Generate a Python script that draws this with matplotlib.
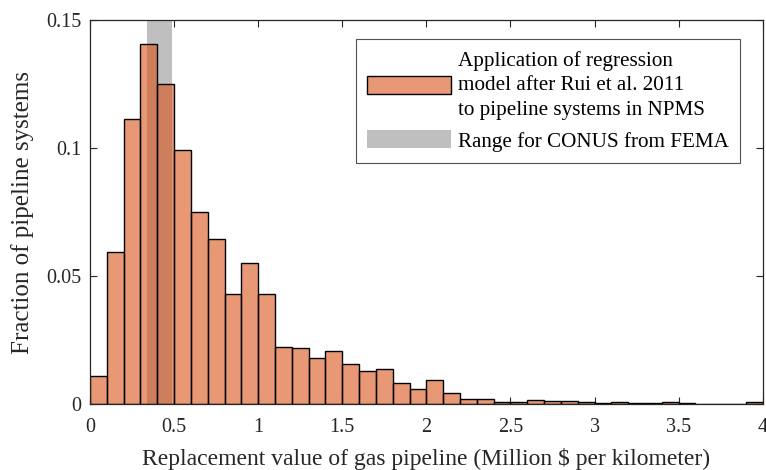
import numpy as np
import matplotlib
matplotlib.use("Agg")
import matplotlib.pyplot as plt
from matplotlib.patches import Patch

plt.rcParams['font.family'] = ['Liberation Serif', 'DejaVu Serif']

# histogram of replacement value, bins of 0.1 Million $/km from 0 to 4
bin_edges = np.round(np.arange(0, 4.01, 0.1), 2)
fractions = [0.0110, 0.0592, 0.1112, 0.1406, 0.1251, 0.0993, 0.0750, 0.0646, 0.0428, 0.0552,
             0.0431, 0.0224, 0.0217, 0.0178, 0.0208, 0.0156, 0.0130, 0.0135, 0.0083, 0.0060,
             0.0094, 0.0042, 0.0018, 0.0020, 0.0009, 0.0008, 0.0016, 0.0013, 0.0011, 0.0007,
             0.0005, 0.0008, 0.0005, 0.0005, 0.0006, 0.0004, 0.0002, 0.0001, 0.0000, 0.0008]

# FEMA range for CONUS
fema_range = [0.34, 0.49]

xticks = [0, 0.5, 1, 1.5, 2, 2.5, 3, 3.5, 4]
xticklabels = ['0', '0.5', '1', '1.5', '2', '2.5', '3', '3.5', '4']
yticks = [0, 0.05, 0.1, 0.15]
yticklabels = ['0', '0.05', '0.1', '0.15']

bar_color = (0.85, 0.325, 0.098)
gray = (0.75, 0.75, 0.75)
dark = (0.15, 0.15, 0.15)

fig = plt.figure(figsize=(7.66, 4.70), dpi=100)
ax = fig.add_axes([0.1175, 0.1404, 0.8782, 0.8170])

ax.axvspan(fema_range[0], fema_range[1], color=gray, lw=0, zorder=1)
ax.bar(bin_edges[:-1], fractions, width=0.1, align='edge',
       facecolor=bar_color + (0.6,), edgecolor='black', linewidth=1.0, zorder=2)

ax.set_xlim(0, 4)
ax.set_ylim(0, 0.15)
ax.set_xticks(xticks)
ax.set_xticklabels(xticklabels)
ax.set_yticks(yticks)
ax.set_yticklabels(yticklabels)
ax.tick_params(direction='in', top=True, right=True, length=5, width=0.8,
               labelsize=14.5, colors=dark, labelcolor=dark)
ax.tick_params(axis='x', pad=10)
ax.tick_params(axis='y', pad=6)
for s in ax.spines.values():
    s.set_color(dark)
    s.set_linewidth(0.9)
ax.set_xlabel('Replacement value of gas pipeline (Million $ per kilometer)', fontsize=17, color=dark, labelpad=8)
ax.set_ylabel('Fraction of pipeline systems', fontsize=18, color=dark, labelpad=9)

handles = [Patch(facecolor=bar_color + (0.6,), edgecolor='black', linewidth=1.0),
           Patch(facecolor=gray, edgecolor='none')]
labels = ['Application of regression\nmodel after Rui et al. 2011\nto pipeline systems in NPMS',
          'Range for CONUS from FEMA']
leg = ax.legend(handles, labels, loc='upper right', bbox_to_anchor=(740 / 766, 1 - 39 / 470),
                bbox_transform=fig.transFigure, fontsize=15.2, frameon=True, fancybox=False,
                edgecolor=dark, handlelength=3.95, handleheight=0.95, handletextpad=0.33,
                borderpad=0.55, labelspacing=0.5, borderaxespad=0)
leg.get_frame().set_linewidth(0.8)
for t in leg.get_texts():
    t.set_linespacing(1.4)

fig.savefig('out.png', dpi=100)
